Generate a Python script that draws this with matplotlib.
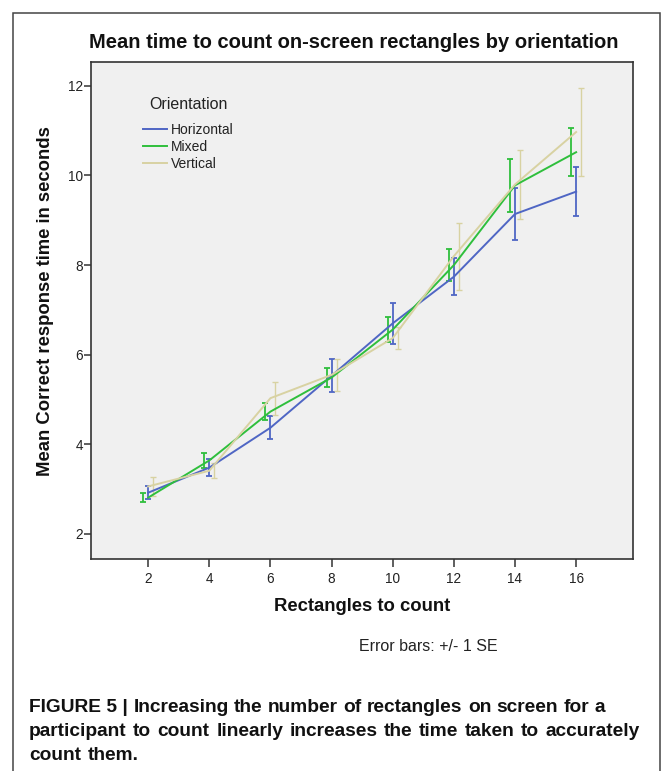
import matplotlib
matplotlib.use("Agg")
import matplotlib.pyplot as plt
import numpy as np
from matplotlib.patches import Rectangle
from matplotlib.lines import Line2D

plt.rcParams['font.family'] = ['Liberation Sans', 'DejaVu Sans']

# data
counts = [2, 4, 6, 8, 10, 12, 14, 16]
orientations = ["Horizontal", "Mixed", "Vertical"]
horizontal_mean = [2.92, 3.48, 4.37, 5.53, 6.70, 7.74, 9.14, 9.64]
horizontal_se = [0.14, 0.195, 0.26, 0.365, 0.46, 0.41, 0.575, 0.55]
mixed_mean = [2.81, 3.64, 4.73, 5.49, 6.56, 8.00, 9.78, 10.52]
mixed_se = [0.095, 0.17, 0.19, 0.215, 0.28, 0.35, 0.59, 0.54]
vertical_mean = [3.06, 3.41, 5.03, 5.55, 6.37, 8.20, 9.80, 10.97]
vertical_se = [0.215, 0.17, 0.37, 0.35, 0.25, 0.745, 0.78, 0.98]

means = [horizontal_mean, mixed_mean, vertical_mean]
ses = [horizontal_se, mixed_se, vertical_se]
colors = ["#4f66c4", "#2fbf3c", "#d8d2a2"]
dodge = [0.0, -0.165, 0.165]
bar_lw = [1.3, 1.3, 1.0]

W, H = 671, 771
fig = plt.figure(figsize=(W / 100, H / 100), dpi=100)
fig.patch.set_facecolor("white")

# outer frame of the figure panel
fig.patches.append(Rectangle((12.5 / W, -0.01), (660 - 12.5) / W, 1 - 13 / H + 0.01,
                             transform=fig.transFigure, fill=False,
                             edgecolor="#444444", lw=1.1))

ax = fig.add_axes([91 / W, 1 - 559 / H, (633.3 - 91) / W, (559 - 61.7) / H])
ax.set_facecolor("#f0f0f0")

handles = []
for name, m, s, c, d, blw in zip(orientations, means, ses, colors, dodge, bar_lw):
    x = np.array(counts, dtype=float)
    ax.plot(x, m, color=c, lw=1.4, zorder=3)
    ax.errorbar(x + d, m, yerr=s, fmt="none", ecolor=c, elinewidth=blw,
                capsize=2.3, capthick=blw, zorder=2)
    handles.append(Line2D([], [], color=c, lw=1.4, label=name))

ax.set_xlim(0.13, 17.87)
ax.set_ylim(1.44, 12.54)
ax.set_xticks(counts)
ax.set_yticks([2, 4, 6, 8, 10, 12])
ax.tick_params(axis="y", direction="out", length=5, width=1.1, pad=0.5,
               labelsize=9.8, colors="#333333", labelcolor="#222222")
ax.tick_params(axis="x", direction="out", length=5.5, width=1.1, pad=4,
               labelsize=9.8, colors="#333333", labelcolor="#222222")
for sp in ax.spines.values():
    sp.set_color("#333333")
    sp.set_linewidth(1.2)

ax.text((149 - 91) / (633.3 - 91), (559 - 105) / (559 - 61.7), "Orientation",
        transform=ax.transAxes, fontsize=11.5, va="center", ha="left", color="#222222")
leg = ax.legend(handles=handles, loc="upper left",
                bbox_to_anchor=((143 - 91) / (633.3 - 91), (559 - 123) / (559 - 61.7)),
                frameon=False, fontsize=10, handlelength=1.75, handletextpad=0.25,
                labelspacing=0.2, borderpad=0, borderaxespad=0)
for t in leg.get_texts():
    t.set_color("#222222")

fig.text(354 / W, 1 - 42 / H, "Mean time to count on-screen rectangles by orientation",
         ha="center", va="center", fontsize=14.5, fontweight="bold", color="#111111")
fig.text(45.5 / W, 1 - 301 / H, "Mean Correct response time in seconds",
         ha="center", va="center", rotation=90, fontsize=13.3, fontweight="bold",
         color="#111111")
fig.text(362 / W, 1 - 606.7 / H, "Rectangles to count", ha="center", va="center",
         fontsize=13.3, fontweight="bold", color="#111111")
fig.text(428 / W, 1 - 646.7 / H, "Error bars: +/- 1 SE", ha="center", va="center",
         fontsize=11.5, color="#222222")

# caption, justified word by word
caption = [
    (["FIGURE 5 |"] + "Increasing the number of rectangles on screen for a".split(), 712, 29, 605),
    ("participant to count linearly increases the time taken to accurately".split(), 736, 29, 640),
    ("count them.".split(), 760, 29, None),
]
r = fig.canvas.get_renderer()
for words, base, x0, x1 in caption:
    txts = [fig.text(0, 1 - base / H, w, fontsize=13.8, fontweight="bold",
                     va="baseline", ha="left", color="#111111") for w in words]
    widths = [t.get_window_extent(r).width for t in txts]
    if x1 is None:
        gap = 6.5
    else:
        gap = (x1 - x0 - sum(widths)) / (len(words) - 1)
    x = x0
    for t, w in zip(txts, widths):
        t.set_x(x / W)
        x += w + gap

fig.savefig("out.png", dpi=100, facecolor="white")
